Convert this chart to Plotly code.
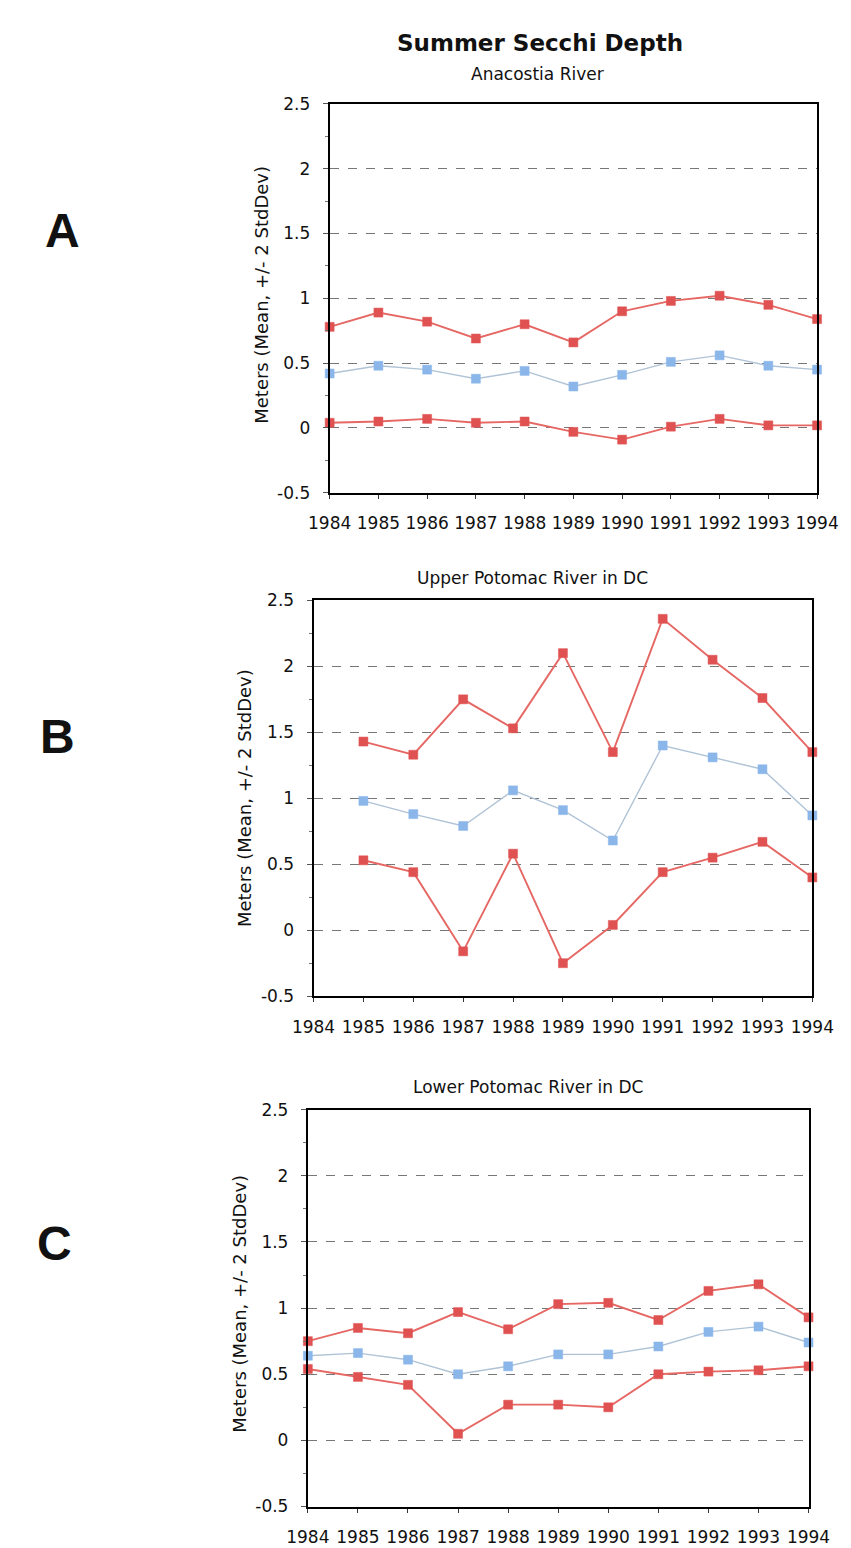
import plotly.graph_objects as go

years = [1984, 1985, 1986, 1987, 1988, 1989, 1990, 1991, 1992, 1993, 1994]

# Panel A - Anacostia River
a_upper = [0.78, 0.89, 0.82, 0.69, 0.80, 0.66, 0.90, 0.98, 1.02, 0.95, 0.84]
a_mean  = [0.42, 0.48, 0.45, 0.38, 0.44, 0.32, 0.41, 0.51, 0.56, 0.48, 0.45]
a_lower = [0.04, 0.05, 0.07, 0.04, 0.05, -0.03, -0.09, 0.01, 0.07, 0.02, 0.02]

# Panel B - Upper Potomac River in DC (no 1984 value)
b_upper = [None, 1.43, 1.33, 1.75, 1.53, 2.10, 1.35, 2.36, 2.05, 1.76, 1.35]
b_mean  = [None, 0.98, 0.88, 0.79, 1.06, 0.91, 0.68, 1.40, 1.31, 1.22, 0.87]
b_lower = [None, 0.53, 0.44, -0.16, 0.58, -0.25, 0.04, 0.44, 0.55, 0.67, 0.40]

# Panel C - Lower Potomac River in DC
c_upper = [0.75, 0.85, 0.81, 0.97, 0.84, 1.03, 1.04, 0.91, 1.13, 1.18, 0.93]
c_mean  = [0.64, 0.66, 0.61, 0.50, 0.56, 0.65, 0.65, 0.71, 0.82, 0.86, 0.74]
c_lower = [0.54, 0.48, 0.42, 0.05, 0.27, 0.27, 0.25, 0.50, 0.52, 0.53, 0.56]

main_title = "Summer Secchi Depth"
panel_titles = ["Anacostia River", "Upper Potomac River in DC", "Lower Potomac River in DC"]
panel_letters = ["A", "B", "C"]
y_title = "Meters (Mean, +/- 2 StdDev)"
y_ticks = [-0.5, 0, 0.5, 1, 1.5, 2, 2.5]
y_ticktext = ["-0.5", "0", "0.5", "1", "1.5", "2", "2.5"]

W, H = 851, 1548
RED_LINE = "#e66864"
RED_MARK = "#e05252"
BLUE_LINE = "#b0c3d6"
BLUE_MARK = "#8ab6ea"
FONT = "DejaVu Sans"

# plot-area boxes in pixels: (left, right, top, bottom)
boxes = [(316, 830, 87, 481), (299, 825, 590, 991), (293, 821, 1106, 1508)]
title_pos = [(535, 57), (530, 567), (525, 1083)]
ytitle_pos = [(244, 280), (227, 790), (221, 1303)]
letter_pos = [(34, 215), (29, 728), (26, 1242)]

data = [(a_upper, a_mean, a_lower), (b_upper, b_mean, b_lower), (c_upper, c_mean, c_lower)]

fig = go.Figure()
layout = dict(width=W, height=H, margin=dict(l=0, r=0, t=0, b=0),
              paper_bgcolor="white", plot_bgcolor="white", showlegend=False,
              font=dict(family=FONT, color="#111"))
annotations = []

for i, ((up, mn, lo), (l, r, t, b)) in enumerate(zip(data, boxes)):
    n = "" if i == 0 else str(i + 1)
    xa, ya = "x" + n, "y" + n
    for vals, lc, mc, lw in [(up, RED_LINE, RED_MARK, 1.9), (mn, BLUE_LINE, BLUE_MARK, 1.4), (lo, RED_LINE, RED_MARK, 1.9)]:
        fig.add_trace(go.Scatter(x=years, y=vals, xaxis=xa, yaxis=ya, mode="lines+markers",
                                 line=dict(color=lc, width=lw),
                                 marker=dict(symbol="square", size=9, color=mc,
                                             line=dict(color=mc, width=0.5)),
                                 cliponaxis=False, connectgaps=False))
    layout["xaxis" + n] = dict(domain=[l / W, r / W], anchor=ya, range=[1984, 1994],
                               tickmode="array", tickvals=years, ticktext=[str(y) for y in years],
                               ticks="outside", ticklen=4, tickcolor="#333",
                               showline=True, mirror=True, linecolor="black", linewidth=2,
                               showgrid=False, zeroline=False,
                               tickfont=dict(size=17, family=FONT, color="#111"),
                               ticklabelstandoff=10)
    layout["yaxis" + n] = dict(domain=[1 - b / H, 1 - t / H], anchor=xa, range=[-0.5, 2.5],
                               tickmode="array", tickvals=y_ticks, ticktext=y_ticktext,
                               ticks="outside", ticklen=5, tickcolor="#555",
                               minor=dict(tickmode="linear", dtick=0.25, tick0=0, ticks="outside",
                                          ticklen=3, tickcolor="#777", showgrid=False),
                               showline=True, mirror=True, linecolor="black", linewidth=2,
                               showgrid=True, gridcolor="#777777", griddash="dash", gridwidth=1,
                               zeroline=False,
                               tickfont=dict(size=17, family=FONT, color="#111"),
                               ticklabelstandoff=9)
    tx, ty = title_pos[i]
    annotations.append(dict(text=panel_titles[i], x=tx / W, y=1 - ty / H, xref="paper", yref="paper",
                            showarrow=False, font=dict(size=17, family=FONT, color="#111"),
                            xanchor="center", yanchor="middle"))
    yx, yy = ytitle_pos[i]
    annotations.append(dict(text=y_title, x=yx / W, y=1 - yy / H, xref="paper", yref="paper",
                            showarrow=False, textangle=-90, font=dict(size=18, family=FONT, color="#111"),
                            xanchor="center", yanchor="middle"))
    lx, ly = letter_pos[i]
    annotations.append(dict(text="<b>" + panel_letters[i] + "</b>", x=lx / W, y=1 - ly / H,
                            xref="paper", yref="paper", showarrow=False,
                            font=dict(size=48, family="Liberation Sans Narrow, Liberation Sans", color="#111"),
                            xanchor="center", yanchor="middle"))

annotations.append(dict(text="<b>" + main_title + "</b>", x=538 / W, y=1 - 25 / H, xref="paper", yref="paper",
                        showarrow=False, font=dict(size=23, family=FONT, color="#111"),
                        xanchor="center", yanchor="middle"))
layout["annotations"] = annotations
fig.update_layout(**layout)
fig.write_html("out.html")
